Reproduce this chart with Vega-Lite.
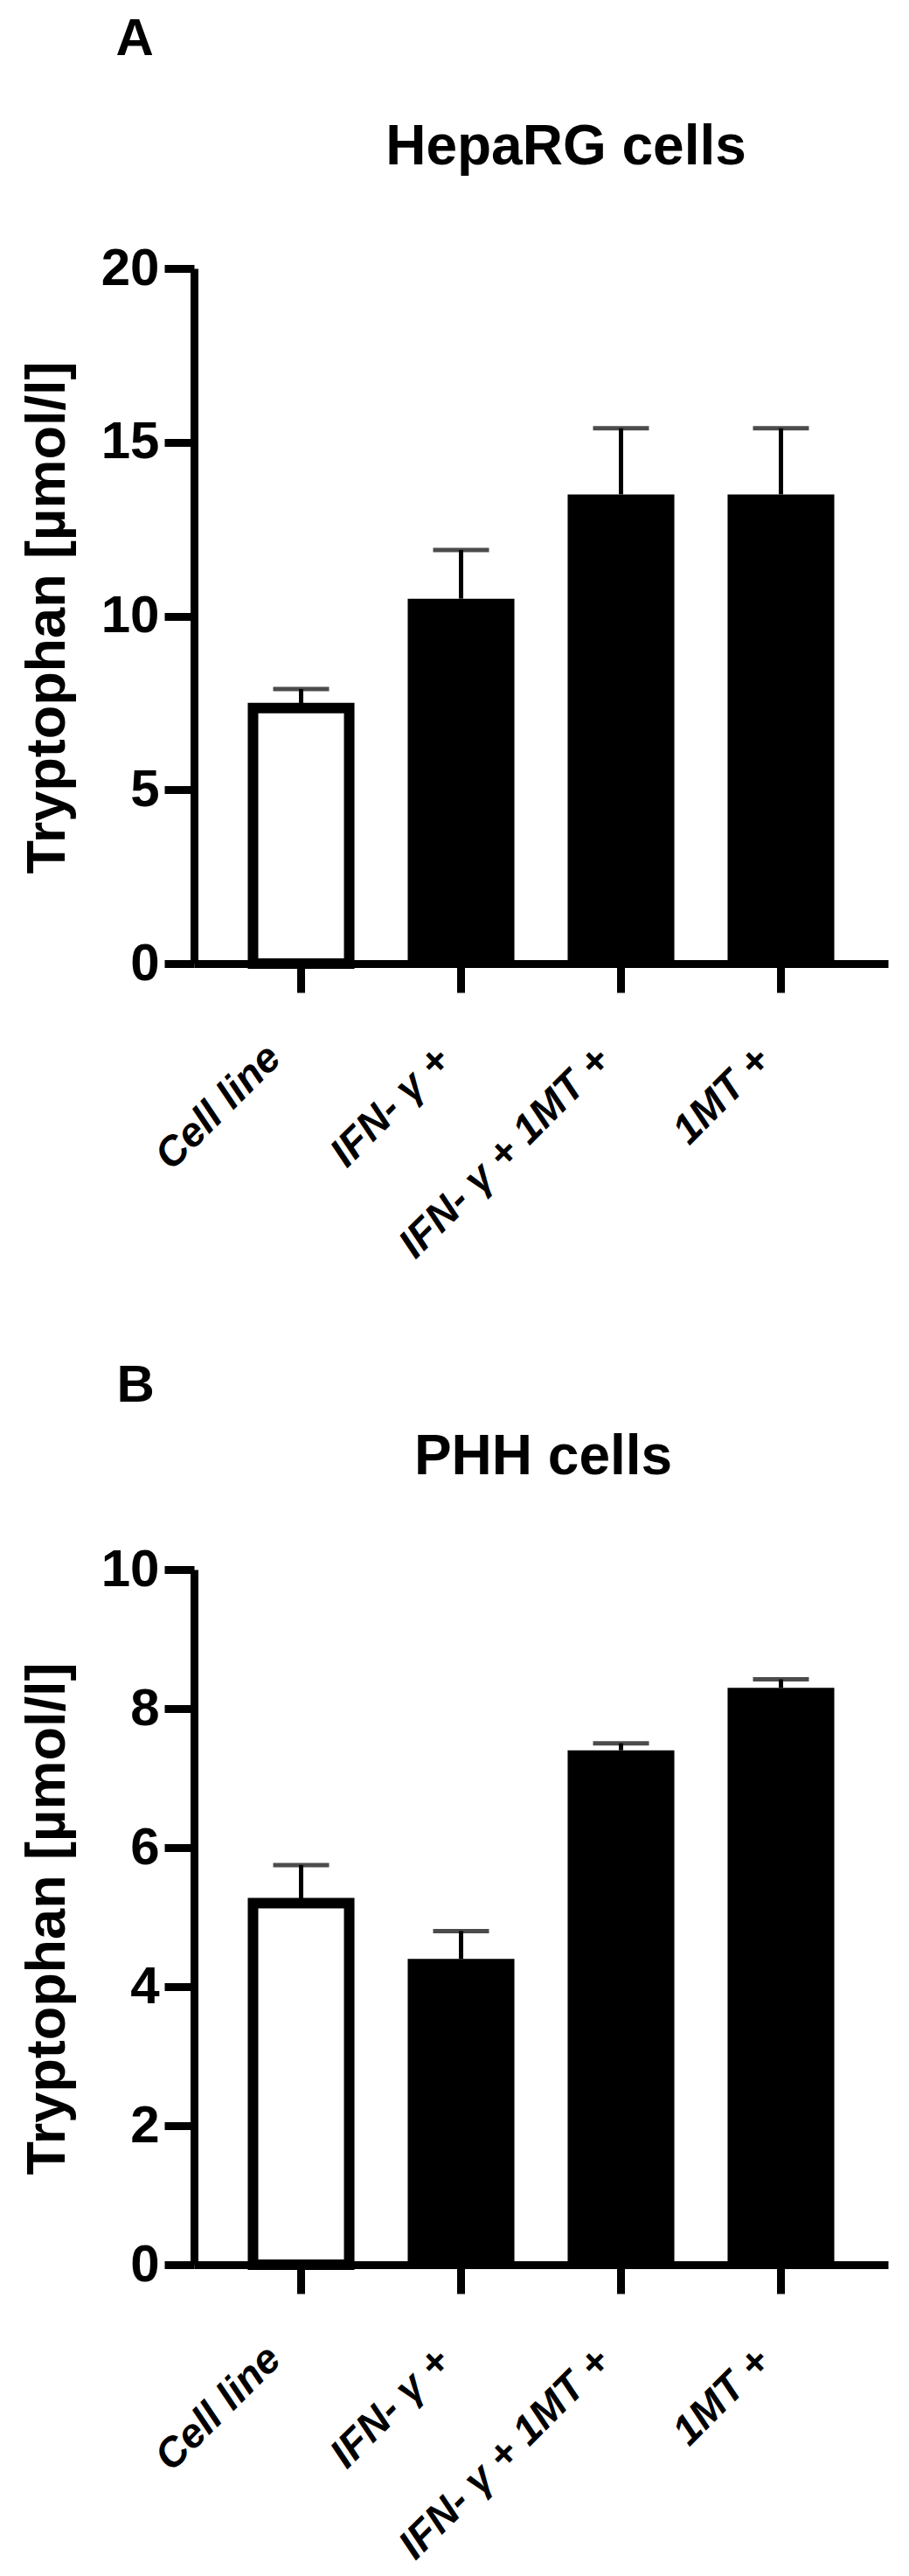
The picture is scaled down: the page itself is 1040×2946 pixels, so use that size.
{
  "$schema": "https://vega.github.io/schema/vega-lite/v6.json",
  "autosize": {"type": "none"},
  "padding": {"left": 222, "top": 307, "right": 818, "bottom": 2639},
  "background": "white",
  "datasets": {
    "hepa": [
      {"group": "Cell line", "mean": 7.35, "upper": 7.9},
      {"group": "IFN- γ +", "mean": 10.5, "upper": 11.9},
      {"group": "IFN- γ + 1MT +", "mean": 13.5, "upper": 15.4},
      {"group": "1MT +", "mean": 13.5, "upper": 15.4}
    ],
    "phh": [
      {"group": "Cell line", "mean": 5.2, "upper": 5.75},
      {"group": "IFN- γ +", "mean": 4.4, "upper": 4.8},
      {"group": "IFN- γ + 1MT +", "mean": 7.4, "upper": 7.5},
      {"group": "1MT +", "mean": 8.3, "upper": 8.42}
    ]
  },
  "bounds": "flush",
  "spacing": 693,
  "resolve": {"scale": {"x": "independent", "y": "independent"}},
  "vconcat": [
    {
      "data": {"name": "hepa"},
      "width": 794,
      "height": 795,
      "resolve": {"axis": {"x": "independent"}},
      "layer": [
        {
          "transform": [{"filter": "datum.group === 'Cell line'"}],
          "mark": {"type": "bar", "fill": "white", "stroke": "black", "strokeWidth": 12, "width": {"band": 0.9016}},
          "encoding": {
            "x": {"field": "group", "type": "nominal",
              "scale": {"domain": ["Cell line", "IFN- γ +", "IFN- γ + 1MT +", "1MT +"], "paddingInner": 0.333, "paddingOuter": 0.336},
              "axis": {"orient": "bottom", "title": "A", "titleX": -90, "titleY": -1040,
                "labelOffset": {"condition": {"test": "datum.value === 'Cell line'", "value": -47}, "value": -36},
                "labelPadding": {"condition": {"test": "datum.value === 'Cell line'", "value": 51}, "value": 54}}},
            "y": {"field": "mean", "type": "quantitative", "scale": {"domain": [0, 20], "nice": false},
              "axis": {"orient": "left", "title": "Tryptophan [µmol/l]", "values": [0, 5, 10, 15, 20],
                "domain": true, "ticks": true, "labels": true, "tickSize": 34, "labelFontSize": 60, "labelPadding": 6,
                "titleFontSize": 63, "titleAngle": 270, "titleX": -149, "titleY": 399, "titleAlign": "center", "titleBaseline": "alphabetic"}}
          }
        },
        {
          "transform": [{"filter": "datum.group !== 'Cell line'"}],
          "mark": {"type": "bar", "color": "black"},
          "encoding": {
            "x": {"field": "group", "type": "nominal", "axis": null,
              "scale": {"domain": ["Cell line", "IFN- γ +", "IFN- γ + 1MT +", "1MT +"], "paddingInner": 0.333, "paddingOuter": 0.336}},
            "y": {"field": "mean", "type": "quantitative", "scale": {"domain": [0, 20], "nice": false},
              "axis": {"orient": "left", "title": "Tryptophan [µmol/l]", "values": [0, 5, 10, 15, 20],
                "domain": true, "ticks": true, "labels": true, "tickSize": 34, "labelFontSize": 60, "labelPadding": 6,
                "titleFontSize": 63, "titleAngle": 270, "titleX": -149, "titleY": 399, "titleAlign": "center", "titleBaseline": "alphabetic"}}
          }
        },
        {
          "mark": {"type": "rule", "color": "black", "strokeWidth": 5},
          "encoding": {
            "x": {"field": "group", "type": "nominal", "axis": null,
              "scale": {"domain": ["Cell line", "IFN- γ +", "IFN- γ + 1MT +", "1MT +"], "paddingInner": 0.333, "paddingOuter": 0.336}},
            "y": {"field": "mean", "type": "quantitative", "scale": {"domain": [0, 20], "nice": false},
              "axis": {"orient": "left", "title": "Tryptophan [µmol/l]", "values": [0, 5, 10, 15, 20],
                "domain": true, "ticks": true, "labels": true, "tickSize": 34, "labelFontSize": 60, "labelPadding": 6,
                "titleFontSize": 63, "titleAngle": 270, "titleX": -149, "titleY": 399, "titleAlign": "center", "titleBaseline": "alphabetic"}},
            "y2": {"field": "upper"}
          }
        },
        {
          "mark": {"type": "tick", "orient": "horizontal", "color": "black", "size": 64, "thickness": 5},
          "encoding": {
            "x": {"field": "group", "type": "nominal",
              "scale": {"domain": ["Cell line", "IFN- γ +", "IFN- γ + 1MT +", "1MT +"], "paddingInner": 0.333, "paddingOuter": 0.336},
              "axis": {"orient": "top", "title": "HepaRG cells", "domain": false, "ticks": false, "labels": false,
                "titleFontSize": 64, "titleX": 425, "titleY": -120, "titleAlign": "center"}},
            "y": {"field": "upper", "type": "quantitative", "scale": {"domain": [0, 20], "nice": false},
              "axis": {"orient": "left", "title": "Tryptophan [µmol/l]", "values": [0, 5, 10, 15, 20],
                "domain": true, "ticks": true, "labels": true, "tickSize": 34, "labelFontSize": 60, "labelPadding": 6,
                "titleFontSize": 63, "titleAngle": 270, "titleX": -149, "titleY": 399, "titleAlign": "center", "titleBaseline": "alphabetic"}}
          }
        }
      ]
    },
    {
      "data": {"name": "phh"},
      "width": 794,
      "height": 795,
      "resolve": {"axis": {"x": "independent"}},
      "layer": [
        {
          "transform": [{"filter": "datum.group === 'Cell line'"}],
          "mark": {"type": "bar", "fill": "white", "stroke": "black", "strokeWidth": 12, "width": {"band": 0.9016}},
          "encoding": {
            "x": {"field": "group", "type": "nominal",
              "scale": {"domain": ["Cell line", "IFN- γ +", "IFN- γ + 1MT +", "1MT +"], "paddingInner": 0.333, "paddingOuter": 0.336},
              "axis": {"orient": "bottom", "title": "B", "titleX": -89, "titleY": -988,
                "labelOffset": {"condition": {"test": "datum.value === 'Cell line'", "value": -47}, "value": -36},
                "labelPadding": {"condition": {"test": "datum.value === 'Cell line'", "value": 51}, "value": 54}}},
            "y": {"field": "mean", "type": "quantitative", "scale": {"domain": [0, 10], "nice": false},
              "axis": {"orient": "left", "title": "Tryptophan [µmol/l]", "values": [0, 2, 4, 6, 8, 10],
                "domain": true, "ticks": true, "labels": true, "tickSize": 34, "labelFontSize": 60, "labelPadding": 6,
                "titleFontSize": 63, "titleAngle": 270, "titleX": -149, "titleY": 399, "titleAlign": "center", "titleBaseline": "alphabetic"}}
          }
        },
        {
          "transform": [{"filter": "datum.group !== 'Cell line'"}],
          "mark": {"type": "bar", "color": "black"},
          "encoding": {
            "x": {"field": "group", "type": "nominal", "axis": null,
              "scale": {"domain": ["Cell line", "IFN- γ +", "IFN- γ + 1MT +", "1MT +"], "paddingInner": 0.333, "paddingOuter": 0.336}},
            "y": {"field": "mean", "type": "quantitative", "scale": {"domain": [0, 10], "nice": false},
              "axis": {"orient": "left", "title": "Tryptophan [µmol/l]", "values": [0, 2, 4, 6, 8, 10],
                "domain": true, "ticks": true, "labels": true, "tickSize": 34, "labelFontSize": 60, "labelPadding": 6,
                "titleFontSize": 63, "titleAngle": 270, "titleX": -149, "titleY": 399, "titleAlign": "center", "titleBaseline": "alphabetic"}}
          }
        },
        {
          "mark": {"type": "rule", "color": "black", "strokeWidth": 5},
          "encoding": {
            "x": {"field": "group", "type": "nominal", "axis": null,
              "scale": {"domain": ["Cell line", "IFN- γ +", "IFN- γ + 1MT +", "1MT +"], "paddingInner": 0.333, "paddingOuter": 0.336}},
            "y": {"field": "mean", "type": "quantitative", "scale": {"domain": [0, 10], "nice": false},
              "axis": {"orient": "left", "title": "Tryptophan [µmol/l]", "values": [0, 2, 4, 6, 8, 10],
                "domain": true, "ticks": true, "labels": true, "tickSize": 34, "labelFontSize": 60, "labelPadding": 6,
                "titleFontSize": 63, "titleAngle": 270, "titleX": -149, "titleY": 399, "titleAlign": "center", "titleBaseline": "alphabetic"}},
            "y2": {"field": "upper"}
          }
        },
        {
          "mark": {"type": "tick", "orient": "horizontal", "color": "black", "size": 64, "thickness": 5},
          "encoding": {
            "x": {"field": "group", "type": "nominal",
              "scale": {"domain": ["Cell line", "IFN- γ +", "IFN- γ + 1MT +", "1MT +"], "paddingInner": 0.333, "paddingOuter": 0.336},
              "axis": {"orient": "top", "title": "PHH cells", "domain": false, "ticks": false, "labels": false,
                "titleFontSize": 64, "titleX": 399, "titleY": -110, "titleAlign": "center"}},
            "y": {"field": "upper", "type": "quantitative", "scale": {"domain": [0, 10], "nice": false},
              "axis": {"orient": "left", "title": "Tryptophan [µmol/l]", "values": [0, 2, 4, 6, 8, 10],
                "domain": true, "ticks": true, "labels": true, "tickSize": 34, "labelFontSize": 60, "labelPadding": 6,
                "titleFontSize": 63, "titleAngle": 270, "titleX": -149, "titleY": 399, "titleAlign": "center", "titleBaseline": "alphabetic"}}
          }
        }
      ]
    }
  ],
  "config": {
    "view": {"stroke": null},
    "font": "Liberation Sans",
    "axis": {
      "labelFont": "Liberation Sans", "titleFont": "Liberation Sans",
      "labelFontWeight": "bold", "titleFontWeight": "bold",
      "labelColor": "#000", "titleColor": "#000", "domainColor": "#000", "tickColor": "#000",
      "domainWidth": 9, "tickWidth": 9, "grid": false,
      "labelOverlap": false, "labelFlush": false, "labelLimit": 0, "titleLimit": 0
    },
    "axisX": {
      "tickSize": 33, "labelAngle": -45, "labelAlign": "right", "labelBaseline": "top",
      "labelFontSize": 47, "labelFontStyle": "italic",
      "titleFontSize": 60, "titleAlign": "left", "titleBaseline": "alphabetic", "titleAngle": 0
    }
  }
}
